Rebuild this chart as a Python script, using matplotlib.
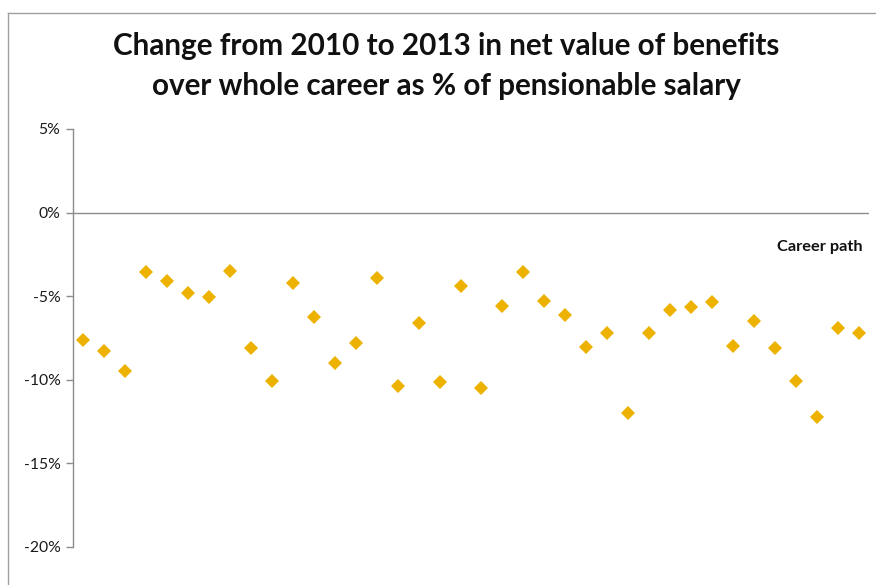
import matplotlib.pyplot as plt
from matplotlib.lines import Line2D
from matplotlib.ticker import FuncFormatter

plt.rcParams['font.family'] = ['Lato', 'DejaVu Sans']

# change in net value of benefits, % of pensionable salary, one value per career path
career_paths = list(range(1, 39))
change_pct = [-7.64, -8.28, -9.48, -3.54, -4.10, -4.78, -5.02, -3.50, -8.10, -10.09,
              -4.20, -6.26, -8.97, -7.77, -3.90, -10.40, -6.62, -10.14, -4.40, -10.50,
              -5.56, -3.56, -5.26, -6.14, -8.04, -7.18, -12.00, -7.20, -5.80, -5.66,
              -5.34, -8.00, -6.50, -8.12, -10.10, -12.22, -6.88, -7.20]
y_ticks = [5, 0, -5, -10, -15, -20]

title = "Change from 2010 to 2013 in net value of benefits\nover whole career as % of pensionable salary"

W, H = 876, 585
fig = plt.figure(figsize=(W / 100, H / 100), dpi=100)
ax = fig.add_axes([73 / W, 1 - 547 / H, (869 - 73) / W, (547 - 129) / H])

ax.plot(career_paths, change_pct, linestyle='none', marker='D', markersize=7,
        color='#EDB100', markeredgewidth=0)

ax.set_xlim(0.5, len(career_paths) + 0.5)
ax.set_ylim(-20, 5)
ax.set_yticks(y_ticks)
ax.yaxis.set_major_formatter(FuncFormatter(lambda v, p: f"{v:.0f}%"))
ax.set_xticks([])

for side in ['top', 'right', 'bottom']:
    ax.spines[side].set_visible(False)
ax.spines['left'].set_color('#8c8c8c')
ax.spines['left'].set_linewidth(1.0)
ax.axhline(0, color='#8c8c8c', linewidth=1.0)
ax.tick_params(axis='y', direction='out', length=5, width=1.0, color='#8c8c8c',
               labelsize=11.3, labelcolor='#1a1a1a', pad=4)

ax.text(0.9925, 0.718, "Career path", transform=ax.transAxes, ha='right', va='center',
        fontsize=11.8, fontweight='bold', color='#111111')

fig.text(446 / W, 1 - 32 / H, title, ha='center', va='top', fontsize=21.3,
         fontweight='bold', color='#111111', linespacing=1.5)

# chart area border (left and top edges)
fig.add_artist(Line2D([8 / W, 8 / W], [0, 1 - 13 / H], transform=fig.transFigure,
                      color='#a0a0a0', linewidth=1.0))
fig.add_artist(Line2D([8 / W, 1], [1 - 13 / H, 1 - 13 / H], transform=fig.transFigure,
                      color='#a0a0a0', linewidth=1.0))

fig.savefig('out.png', dpi=100)
